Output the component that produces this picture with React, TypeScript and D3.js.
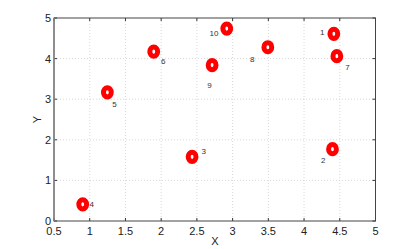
import React from "react";
import * as d3 from "d3";

const xs = [4.417, 4.398, 2.433, 0.902, 1.247, 1.896, 4.459, 3.493, 2.713, 2.918];
const ys = [4.61, 1.77, 1.58, 0.41, 3.17, 4.17, 4.06, 4.28, 3.84, 4.74];
const pointLabels = ["1", "2", "3", "4", "5", "6", "7", "8", "9", "10"];
const labelDx = [-11.7, -9.3, 11.7, 9, 7, 9.6, 10.6, -15.7, -2.7, -12.7];
const labelDy = [-1.7, 11, -6, -0.6, 12, 9.6, 11, 12, 20, 4.6];
const xTicks = [0.5, 1, 1.5, 2, 2.5, 3, 3.5, 4, 4.5, 5];
const yTicks = [0, 1, 2, 3, 4, 5];

export default function App() {
  const W = 415, H = 249;
  const L = 54, R = 375.5, T = 18, B = 221;
  const x = d3.scaleLinear().domain([0.5, 5]).range([L, R]);
  const y = d3.scaleLinear().domain([0, 5]).range([B, T]);
  const font = "Liberation Sans, Arial, sans-serif";
  return (
    <svg width={W} height={H} style={{ position: "absolute", left: 0, top: 0, background: "#fff" }}>
      <rect x={0} y={0} width={W} height={H} fill="#fff" />
      {xTicks.map((t, i) => (
        <g key={"xg" + i}>
          {i > 0 && i < xTicks.length - 1 && (
            <line x1={x(t)} x2={x(t)} y1={T} y2={B} stroke="#c8c8c8" strokeWidth={0.7} strokeDasharray="1,2" />
          )}
          <line x1={x(t)} x2={x(t)} y1={B} y2={B - 3} stroke="#333" />
          <line x1={x(t)} x2={x(t)} y1={T} y2={T + 3} stroke="#333" />
          <text x={x(t)} y={B + 14} textAnchor="middle" fontFamily={font} fontSize={11} fill="#222">{t}</text>
        </g>
      ))}
      {yTicks.map((t, i) => (
        <g key={"yg" + i}>
          {i > 0 && i < yTicks.length - 1 && (
            <line x1={L} x2={R} y1={y(t)} y2={y(t)} stroke="#c8c8c8" strokeWidth={0.7} strokeDasharray="1,2" />
          )}
          <line x1={L} x2={L + 3} y1={y(t)} y2={y(t)} stroke="#333" />
          <line x1={R} x2={R - 3} y1={y(t)} y2={y(t)} stroke="#333" />
          <text x={L - 3} y={y(t) + 4} textAnchor="end" fontFamily={font} fontSize={11} fill="#222">{t}</text>
        </g>
      ))}
      <rect x={L} y={T} width={R - L} height={B - T} fill="none" stroke="#444" strokeWidth={1} />
      <line x1={L} x2={L} y1={T} y2={B} stroke="#888" strokeWidth={1.5} />
      {xs.map((v, i) => (
        <g key={"p" + i}>
          <ellipse cx={x(v)} cy={y(ys[i])} rx={3.9} ry={4.6} fill="#fff" stroke="#ff0000" strokeWidth={5} />
          <text x={x(v) + labelDx[i]} y={y(ys[i]) + labelDy[i] + 3} textAnchor="middle" fontFamily={font} fontSize={8} fill="#333">{pointLabels[i]}</text>
        </g>
      ))}
      <text x={215} y={245} textAnchor="middle" fontFamily={font} fontSize={11} fill="#222">X</text>
      <text transform={`translate(41,${(T + B) / 2}) rotate(-90)`} textAnchor="middle" fontFamily={font} fontSize={11} fill="#222">Y</text>
    </svg>
  );
}
